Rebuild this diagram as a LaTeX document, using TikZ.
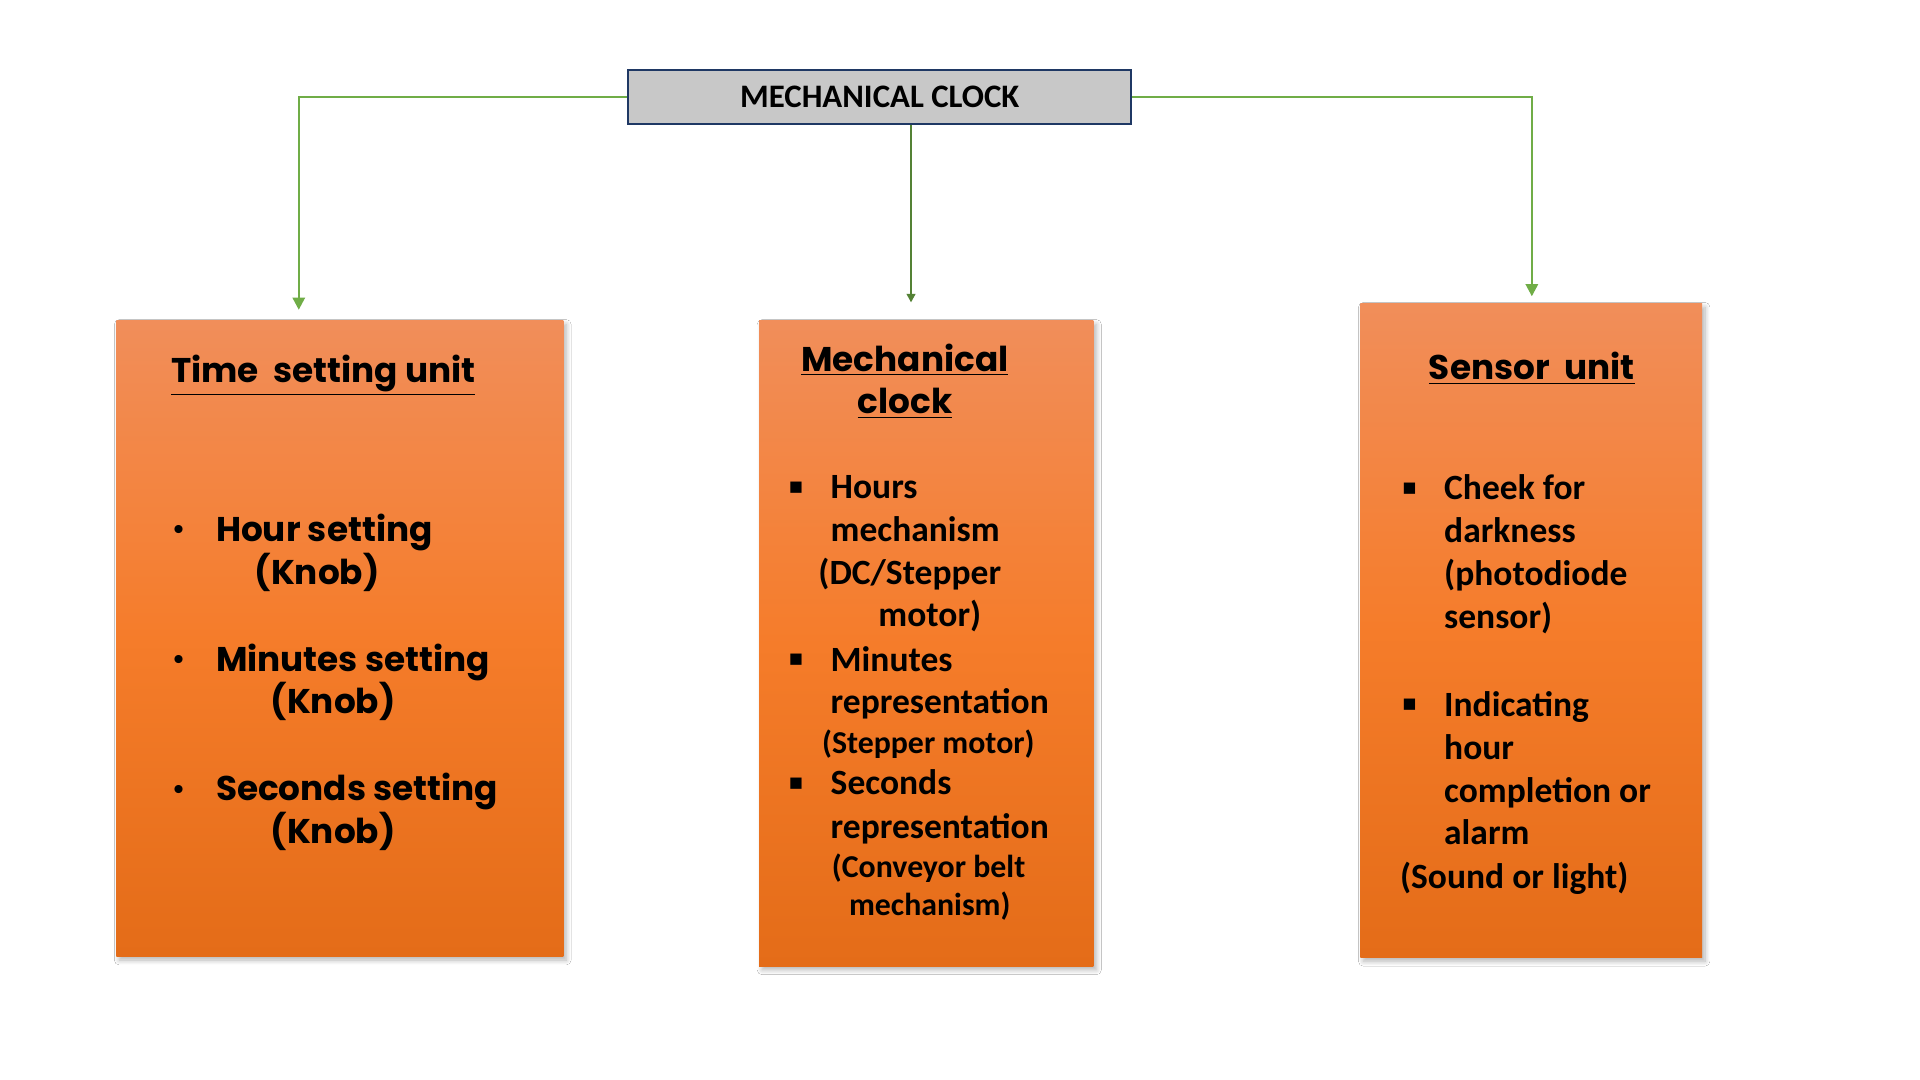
\documentclass[tikz,border=0pt]{standalone}
\usepackage{fontspec}
\setmainfont{Poppins}
\newfontfamily\calfont{Carlito}
\newfontfamily\dejavu{DejaVu Sans}
\usetikzlibrary{arrows.meta,shadows.blur}
\definecolor{gline}{RGB}{112,173,71}
\definecolor{gdark}{RGB}{84,130,53}
\definecolor{navy}{RGB}{31,56,100}
\definecolor{boxgray}{RGB}{200,200,200}
\definecolor{otop}{RGB}{241,142,90}
\definecolor{omid}{RGB}{245,124,42}
\definecolor{obot}{RGB}{228,108,24}
\tikzset{
  orangebox/.style={rectangle, inner sep=0pt, top color=otop, bottom color=obot, middle color=omid,
     blur shadow={shadow xshift=1.2pt, shadow yshift=-1.5pt, shadow blur radius=2pt, shadow blur steps=8, shadow opacity=30}},
  titlebox/.style={rectangle, draw=navy, line width=0.8pt, fill=boxgray, inner sep=0pt},
  conn/.style={draw=gline, line width=1pt, -{Triangle[width=5pt,length=5pt]}},
  conndark/.style={draw=gdark, line width=1pt, -{Triangle[width=3.5pt,length=3.5pt]}},
  comic/.style={font=\fontsize{14}{17}\selectfont\bfseries, inner sep=0pt, text=black},
  bul/.style={font=\fontsize{11}{13}\selectfont\bfseries, inner sep=0pt, text=black},
  calib/.style={font=\fontsize{14.5}{17}\selectfont\calfont\bfseries, inner sep=0pt, text=black},
  calsmall/.style={font=\fontsize{13}{15}\selectfont\calfont\bfseries, inner sep=0pt, text=black},
  sq/.style={font=\fontsize{6}{7}\selectfont\dejavu, inner sep=0pt, text=black},
}
\begin{document}
\begin{tikzpicture}[x=0.5pt,y=-0.5pt]
\useasboundingbox[fill=white] (0,0) rectangle (1568,882);

% boxes
\node[titlebox, minimum width=205.5pt, minimum height=22pt] (top) at (718.5,79)
  {\fontsize{13.4}{15}\selectfont\calfont\bfseries MECHANICAL CLOCK};
\node[orangebox, minimum width=182.5pt, minimum height=259.5pt] (tsu) at (277.5,521.5) {};
\node[orangebox, minimum width=136.5pt, minimum height=263.5pt] (mc) at (756.5,525.5) {};
\node[orangebox, minimum width=139.5pt, minimum height=267pt] (su) at (1250.5,515) {};

% connectors
\coordinate (a1) at (244,253);
\coordinate (a2) at (744,247);
\coordinate (a3) at (1251,242);
\draw[conn] (top.west) -| (a1);
\draw[conndark] (top.south -| a2) -- (a2);
\draw[conn] (top.east) -| (a3);

% left box text
\node[comic, anchor=base] (t1) at (264,312) {\underline{Time\ \ setting unit}};
\node[bul, anchor=base west] (b1) at (140,440) {\textbullet};
\node[comic, anchor=base west] (l1) at (176,442) {Hour setting};
\node[comic, anchor=base] (l2) at (259,477) {(Knob)};
\node[bul, anchor=base west] (b2) at (140,546) {\textbullet};
\node[comic, anchor=base west] (l3) at (176,548) {Minutes setting};
\node[comic, anchor=base] (l4) at (272,583) {(Knob)};
\node[bul, anchor=base west] (b3) at (140,652) {\textbullet};
\node[comic, anchor=base west] (l5) at (176,654) {Seconds setting};
\node[comic, anchor=base] (l6) at (272,689) {(Knob)};

% middle box text
\node[comic, anchor=base] (t2) at (739,303) {\underline{Mechanical}};
\node[comic, anchor=base] (t3) at (739,338) {\underline{clock}};
\node[sq, anchor=base west] (s1) at (644,401) {■};
\node[calib, anchor=base west] (m1) at (678,407) {Hours};
\node[calib, anchor=base west] (m2) at (678,442) {mechanism};
\node[calib, anchor=base west] (m3) at (668,477) {(DC/Stepper};
\node[calib, anchor=base west] (m4) at (717,512) {motor)};
\node[sq, anchor=base west] (s2) at (644,542) {■};
\node[calib, anchor=base west] (m5) at (678,548) {Minutes};
\node[calib, anchor=base west] (m6) at (678,583) {representation};
\node[calsmall, anchor=base west] (m7) at (671,615) {(Stepper motor)};
\node[sq, anchor=base west] (s3) at (644,643) {■};
\node[calib, anchor=base west] (m8) at (678,649) {Seconds};
\node[calib, anchor=base west] (m9) at (678,685) {representation};
\node[calsmall, anchor=base west] (m10) at (679,717) {(Conveyor belt};
\node[calsmall, anchor=base west] (m11) at (693,748) {mechanism)};

% right box text
\node[comic, anchor=base] (t4) at (1251,310) {\underline{Sensor\ \ unit}};
\node[sq, anchor=base west] (s4) at (1145,402) {■};
\node[calib, anchor=base west] (r1) at (1179,408) {Cheek for};
\node[calib, anchor=base west] (r2) at (1179,443) {darkness};
\node[calib, anchor=base west] (r3) at (1179,478) {(photodiode};
\node[calib, anchor=base west] (r4) at (1179,513) {sensor)};
\node[sq, anchor=base west] (s5) at (1145,579) {■};
\node[calib, anchor=base west] (r5) at (1179,585) {Indicating};
\node[calib, anchor=base west] (r6) at (1179,620) {hour};
\node[calib, anchor=base west] (r7) at (1179,655) {completion or};
\node[calib, anchor=base west] (r8) at (1179,690) {alarm};
\node[calib, anchor=base west] (r9) at (1143,726) {(Sound or light)};
\end{tikzpicture}
\end{document}
